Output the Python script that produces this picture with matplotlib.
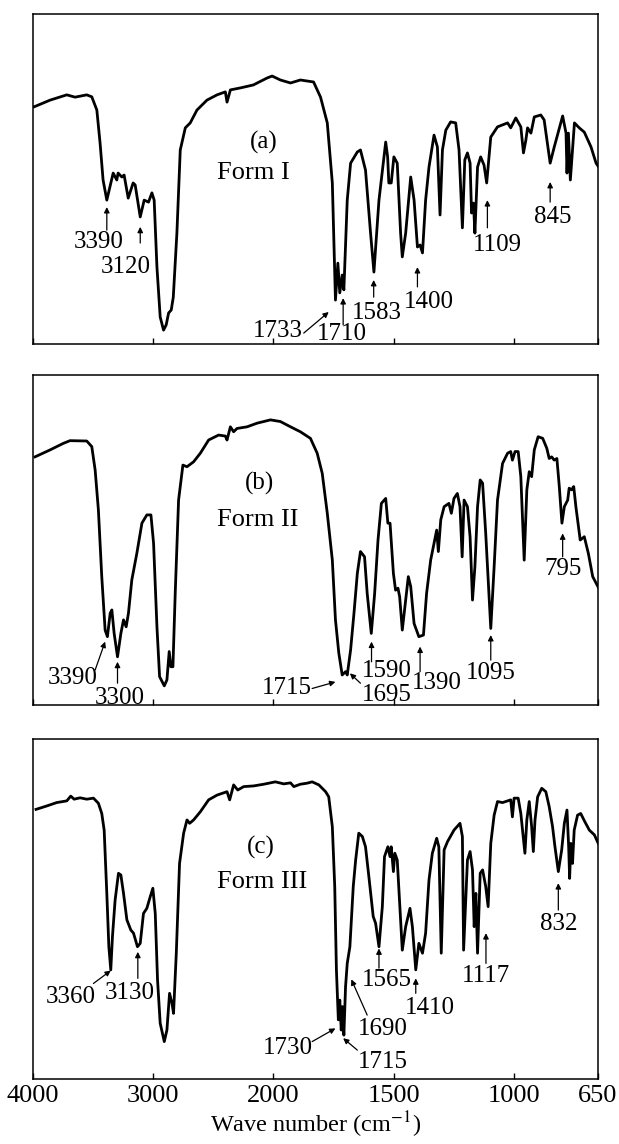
import numpy as np
import matplotlib
matplotlib.use("Agg")
import matplotlib.pyplot as plt
from matplotlib.scale import FuncScale

plt.rcParams['font.family'] = ['Liberation Serif', 'DejaVu Serif']
plt.rcParams['mathtext.fontset'] = 'stix'

# ---------------- data (wavenumber cm^-1, transmittance %) ----------------
wn_a = [3989,3858,3719,3650,3553,3511,3469,3442,3417,3386,3333,3303,3292,3261,3242,3208,3167,3150,3108,3075,3039,3011,2992,2969,2942,2914,2892,2872,2850,2833,2803,2775,2733,2692,2636,2553,2469,2400,2386,2358,2275,2167,2053,2011,1971,1929,1888,1833,1804,1776,1755,1742,1732,1724,1714,1707,1693,1679,1651,1638,1617,1596,1582,1561,1533,1525,1520,1510,1499,1485,1471,1464,1450,1429,1415,1401,1390,1380,1367,1353,1332,1318,1307,1297,1283,1263,1242,1228,1214,1204,1193,1182,1176,1168,1162,1151,1138,1124,1113,1096,1068,1026,1013,992,971,960,950,943,929,915,888,874,849,832,797,783,779,773,765,748,728,707,679,658,647]
t_a = [71.9,73.9,75.5,74.8,75.5,74.9,70.9,60.9,49.7,43.6,51.8,49.7,51.8,50.6,51.2,44.2,48.8,48.2,38.5,43.6,43.0,45.8,43.6,23.3,8.2,4.2,5.8,9.4,10.3,14.2,33.6,58.8,65.5,67.0,70.9,73.9,75.5,76.4,73.3,77.0,77.6,78.5,80.6,81.2,80.0,79.1,80.0,79.4,74.8,67.0,48.8,13.3,24.5,15.5,20.9,16.4,43.6,54.8,58.2,58.8,52.7,33.6,21.8,43.6,61.2,56.7,48.8,48.8,56.7,54.8,33.6,26.4,33.6,50.6,43.6,29.4,30.0,27.6,43.6,53.6,63.3,59.7,39.1,58.8,64.8,67.3,67.0,58.8,35.2,55.8,57.9,54.8,39.7,42.7,33.6,53.6,56.7,54.2,48.8,62.7,65.8,67.0,65.5,68.5,65.8,57.9,61.8,65.5,63.9,68.8,69.4,67.9,54.8,59.7,69.1,63.9,51.8,63.9,49.7,67.0,65.5,64.2,59.7,54.8,53.6]

wn_b = [3983,3858,3747,3692,3553,3511,3483,3456,3428,3400,3381,3358,3344,3325,3297,3269,3247,3225,3206,3178,3136,3094,3053,3019,2997,2969,2947,2908,2886,2867,2853,2836,2817,2789,2753,2719,2664,2608,2539,2456,2400,2386,2358,2331,2303,2219,2136,2025,1971,1929,1888,1846,1818,1797,1776,1755,1742,1728,1714,1700,1693,1679,1665,1651,1638,1621,1610,1593,1579,1565,1551,1533,1524,1515,1501,1492,1482,1475,1464,1450,1439,1429,1415,1395,1376,1363,1346,1332,1321,1314,1304,1290,1270,1260,1249,1235,1224,1215,1207,1193,1182,1172,1162,1151,1140,1130,1117,1096,1082,1068,1047,1026,1013,1006,995,982,971,957,946,936,926,915,899,880,863,853,843,832,821,811,800,790,776,770,760,751,742,724,707,690,672,658,647]
t_b = [75.2,77.3,79.3,80.1,80.0,78.3,71.2,59.1,38.9,22.7,20.7,27.8,28.8,21.7,14.6,21.7,25.8,23.7,27.8,37.9,46.0,55.1,57.6,57.6,49.0,23.7,8.6,5.8,7.6,16.2,11.6,11.6,33.8,62.1,72.7,72.2,73.7,76.3,80.3,81.8,81.5,80.3,84.3,82.8,83.8,84.3,85.4,86.4,85.9,84.3,82.8,80.8,76.3,70.2,58.1,43.9,25.8,15.7,9.1,10.1,9.1,16.7,27.8,39.9,46.5,44.9,33.8,21.7,33.8,50.0,61.1,62.6,55.1,55.1,39.9,34.8,35.4,32.8,22.7,31.8,38.9,35.9,24.7,20.7,21.2,33.8,43.9,49.0,53.0,46.5,56.1,60.1,61.1,58.1,62.6,64.1,60.1,44.9,62.1,60.1,50.9,31.8,41.9,60.1,68.2,67.2,52.0,23.2,41.9,62.1,73.2,76.3,76.8,74.2,76.8,76.8,69.2,43.9,65.2,70.7,69.2,77.3,81.3,80.8,77.8,74.7,75.2,74.2,74.7,66.2,55.1,60.1,62.1,65.7,65.2,66.2,60.1,50.0,51.0,45.9,38.9,36.9,35.4]

wn_c = [3975,3886,3803,3719,3686,3658,3608,3553,3497,3456,3428,3408,3386,3369,3353,3339,3317,3289,3269,3247,3219,3186,3164,3131,3108,3081,3053,3025,3003,2983,2964,2942,2908,2886,2864,2844,2831,2808,2781,2747,2719,2697,2664,2608,2539,2469,2386,2364,2331,2297,2247,2164,2081,1992,1957,1929,1915,1888,1860,1839,1811,1783,1770,1755,1745,1738,1730,1724,1718,1713,1707,1700,1693,1682,1668,1658,1645,1630,1617,1603,1585,1575,1561,1547,1538,1524,1515,1510,1501,1495,1485,1474,1464,1450,1432,1422,1408,1395,1380,1367,1353,1339,1321,1312,1302,1290,1276,1249,1224,1214,1209,1193,1182,1172,1165,1158,1151,1140,1130,1117,1107,1096,1082,1068,1047,1013,1006,999,982,971,954,946,936,926,919,912,901,884,867,853,839,829,815,801,790,779,772,768,763,756,749,735,722,705,686,665,649]
t_c = [79.3,80.3,81.3,81.8,83.2,82.3,82.7,82.3,82.6,81.1,78.1,73.2,54.6,38.9,32.1,41.9,52.6,60.5,60.0,54.6,46.8,43.8,42.9,38.9,39.9,48.7,50.2,53.6,56.1,48.7,29.1,16.4,11.0,14.4,25.2,22.3,19.3,37.0,63.4,72.3,76.2,75.2,76.2,78.6,82.1,83.5,84.5,82.1,86.5,85.0,86.0,86.2,86.7,87.4,86.8,87.1,86.0,86.7,87.0,87.4,86.5,84.5,83.0,74.2,56.6,32.1,17.4,23.2,14.4,21.3,12.9,27.2,34.0,38.9,56.6,64.4,72.3,71.3,68.3,59.5,47.8,45.8,38.9,50.7,65.4,68.3,65.4,68.3,61.0,66.4,64.4,50.7,37.9,44.8,50.2,44.8,32.1,39.9,37.0,42.9,58.5,66.4,70.8,68.3,37.0,67.4,69.8,73.2,75.2,71.3,37.9,64.4,66.9,61.5,44.8,54.6,37.0,60.5,61.5,56.6,50.7,69.3,77.6,81.6,81.3,82.1,77.1,82.6,82.6,78.1,66.4,76.2,81.6,74.2,66.9,76.2,83.0,85.5,84.5,80.1,74.2,68.3,61.0,67.4,75.2,79.1,68.3,59.0,69.3,63.4,73.2,77.6,78.1,75.7,73.2,71.8,69.3]

panel_tags = ["(a)", "(b)", "(c)"]
form_names = ["Form I", "Form II", "Form III"]
tick_values = [4000, 3000, 2000, 1500, 1000, 650]
tick_labels = ["4000", "3000", "2000", "1500", "1000", "650"]

# peak labels: (label, arrow-head wn, head T, arrow-tail wn, tail T, text wn, text T)
ann_a = [("3390", 3386, 41.5, 3386, 34.5, 3453, 30.9),
         ("3120", 3108, 35.5, 3108, 30.6, 3227, 23.2),
         ("1733", 1770, 9.7, 1874, 3.3, 1981, 3.8),
         ("1710", 1710, 13.9, 1710, 5.8, 1714, 3.0),
         ("1583", 1583, 19.4, 1583, 14.2, 1571, 9.5),
         ("1400", 1401, 23.3, 1401, 17.3, 1353, 12.8),
         ("1109", 1110, 43.6, 1110, 35.2, 1068, 30.0),
         ("845", 849, 49.1, 849, 43.0, 839, 38.6)]
ann_b = [("3390", 3400, 19.2, 3483, 10.6, 3667, 8.2),
         ("3300", 3297, 13.1, 3297, 6.6, 3282, 2.1),
         ("1715", 1742, 7.0, 1839, 5.0, 1943, 5.3),
         ("1695", 1682, 9.6, 1638, 6.6, 1530, 3.0),
         ("1590", 1592, 19.2, 1592, 13.1, 1530, 10.4),
         ("1390", 1390, 17.7, 1390, 10.1, 1322, 6.6),
         ("1095", 1096, 21.2, 1096, 13.6, 1096, 9.6),
         ("795", 797, 52.0, 797, 44.9, 797, 41.2)]
ann_c = [("3360", 3353, 31.9, 3497, 28.1, 3685, 24.0),
         ("3130", 3128, 37.4, 3128, 29.6, 3199, 25.4),
         ("1730", 1742, 14.9, 1839, 11.0, 1940, 9.1),
         ("1715", 1710, 12.0, 1651, 8.5, 1544, 4.9),
         ("1690", 1676, 29.3, 1610, 18.8, 1544, 14.7),
         ("1565", 1561, 38.4, 1561, 32.6, 1530, 29.1),
         ("1410", 1408, 29.6, 1408, 25.2, 1350, 21.0),
         ("1117", 1116, 42.9, 1116, 34.0, 1114, 30.4),
         ("832", 815, 57.6, 815, 49.7, 813, 45.6)]

spectra = [(wn_a, t_a, ann_a), (wn_b, t_b, ann_b), (wn_c, t_c, ann_c)]
tag_pos = [(2083, 61.2, 51.8), (2117, 67.0, 56.1), (2102, 68.0, 57.9)]


# ---------------- scale: 2000-650 region drawn at double scale ----------------
def fwd(w):
    w = np.asarray(w, dtype=float)
    return np.where(w >= 2000, w, 2 * w - 2000)


def inv(u):
    u = np.asarray(u, dtype=float)
    return np.where(u >= 2000, u, (u + 2000) / 2)


W, H = 619, 1144
fig = plt.figure(figsize=(W / 100, H / 100), dpi=100)
boxes = [(14, 344), (375, 705), (739, 1079)]
left_px, right_px = 33, 598

FS = 18
for i, ((top, bot), (wn, tt, ann)) in enumerate(zip(boxes, spectra)):
    ax = fig.add_axes([left_px / W, 1 - bot / H, (right_px - left_px) / W, (bot - top) / H])
    ax.set_xscale(FuncScale(ax, (fwd, inv)))
    ax.set_xlim(4000, 650)
    ax.set_ylim(0, 100)
    ax.plot(wn, tt, color='black', lw=2.0, solid_joinstyle='round')
    ax.set_yticks([])
    ax.set_xticks(tick_values)
    ax.tick_params(axis='x', direction='in', length=4, width=1.0, pad=4)
    if i == 2:
        ax.set_xticklabels(tick_labels, fontsize=19)
        ax.set_xlabel('Wave number (cm$^{-1}$)', fontsize=17.5, labelpad=2)
    else:
        ax.set_xticklabels([])
    for s in ax.spines.values():
        s.set_linewidth(1.1)
    for lab, hw, ht, tw, tl, xw, xt in ann:
        ax.annotate('', xy=(hw, ht), xytext=(tw, tl),
                    arrowprops=dict(arrowstyle='-|>', color='black', lw=0.9,
                                    mutation_scale=8, shrinkA=0, shrinkB=0))
        ax.text(xw, xt, lab, ha='center', va='center', fontsize=FS)
    tx, ty, fy = tag_pos[i]
    ax.text(tx, ty, panel_tags[i], ha='center', va='center', fontsize=FS)
    ax.text(2470, fy, form_names[i], ha='left', va='center', fontsize=FS + 1)

fig.savefig('out.png', dpi=100)
